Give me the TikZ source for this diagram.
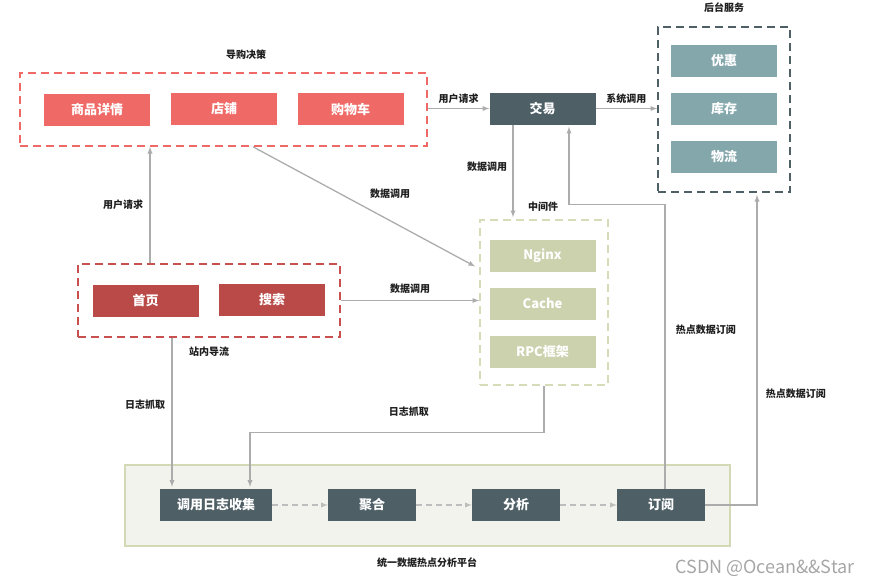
\documentclass[tikz,border=0pt]{standalone}
\usepackage{fontspec}
\setmainfont{Noto Sans CJK SC}
\usepackage{tikz}
\definecolor{hpsalmon}{RGB}{239,106,102}
\definecolor{hpred}{RGB}{185,74,72}
\definecolor{hpreddash}{RGB}{200,80,78}
\definecolor{hpslate}{RGB}{78,95,102}
\definecolor{hpteal}{RGB}{132,167,172}
\definecolor{hpolive}{RGB}{204,210,174}
\definecolor{hpolivedash}{RGB}{214,220,184}
\definecolor{hpbase}{RGB}{243,243,238}
\definecolor{hpbaseline}{RGB}{210,217,180}
\definecolor{hpgray}{RGB}{172,172,172}
\definecolor{hptext}{RGB}{30,30,30}

\begin{document}
\begin{tikzpicture}[
  x=1pt, y=-1pt,
  box/.style={rectangle, inner sep=0pt, minimum width=106pt, minimum height=32pt, text=white, font=\fontsize{13}{15}\selectfont\bfseries},
  group/.style={rectangle, inner sep=0pt, dash pattern=on 8pt off 5pt, line width=1.6pt},
  title/.style={text=hptext, font=\fontsize{10}{12}\selectfont\bfseries},
  arrow/.style={->, >=latex, draw=hpgray, line width=1.3pt},
  flow/.style={->, >=latex, draw=hpgray!80, line width=1.3pt, dash pattern=on 6pt off 4pt}
]
\useasboundingbox (0,0) rectangle (877,586);

% Groups
\node[group, draw=hpsalmon, minimum width=407pt, minimum height=73pt] (guide) at (223.5,109.5) {};
\node[group, draw=hpslate, minimum width=132pt, minimum height=165pt] (backend) at (724,109.5) {};
\node[group, draw=hpolivedash, minimum width=128pt, minimum height=165pt] (mid) at (544,302.5) {};
\node[group, draw=hpreddash, minimum width=262pt, minimum height=73pt] (site) at (209,300.5) {};
\node[rectangle, fill=hpbase, draw=hpbaseline, line width=1.7pt, minimum width=605pt, minimum height=81pt] (platform) at (427.5,505.5) {};

% Group titles
\node[title] (guidetitle) at (246,55) {导购决策};
\node[title] (backendtitle) at (724,8) {后台服务};
\node[title] (midtitle) at (543,207) {中间件};
\node[title] (sitetitle) at (209,352) {站内导流};
\node[title] (platformtitle) at (427,563) {统一数据热点分析平台};

% Top row - shopping guide
\node[box, fill=hpsalmon] (detail) at (97,109.5) {商品详情};
\node[box, fill=hpsalmon] (shop) at (224,109) {店铺};
\node[box, fill=hpsalmon] (cart) at (350.5,109) {购物车};
\node[box, fill=hpslate] (trade) at (542.5,108.5) {交易};

% Back-end services
\node[box, fill=hpteal] (coupon) at (724,61) {优惠};
\node[box, fill=hpteal] (stock) at (724,109) {库存};
\node[box, fill=hpteal] (logistics) at (724,157) {物流};

% Middleware
\node[box, fill=hpolive] (nginx) at (542.5,255.5) {Nginx};
\node[box, fill=hpolive] (cache) at (542.5,303.5) {Cache};
\node[box, fill=hpolive] (rpc) at (542.5,351.5) {RPC框架};

% In-site traffic
\node[box, fill=hpred] (home) at (145.5,300.5) {首页};
\node[box, fill=hpred] (search) at (272,300) {搜索};

% Platform
\node[box, fill=hpslate, minimum width=112pt] (collect) at (216,505) {调用日志收集};
\node[box, fill=hpslate, minimum width=88pt] (agg) at (372,505) {聚合};
\node[box, fill=hpslate, minimum width=88pt] (analyze) at (516,505) {分析};
\node[box, fill=hpslate, minimum width=88pt] (sub) at (661,505) {订阅};

% Arrows
\draw[arrow] (guide.east |- trade.west) -- (trade.west) node[midway, above=1pt, title] {用户请求};
\draw[arrow] (trade.east) -- (trade.east -| backend.west) node[midway, above=1pt, title] {系统调用};
\draw[arrow] ([xshift=-29.5pt]trade.south) -- ([xshift=-29.5pt, yshift=2pt]trade.south |- mid.north) node[pos=0.45, left=2pt, title] {数据调用};
\draw[arrow] ([xshift=-59pt]site.north) -- ([xshift=-59pt]site.north |- guide.south) node[midway, left=3pt, title] {用户请求};
\draw[arrow] ([xshift=29.5pt]guide.south) -- ([xshift=-4pt, yshift=36pt]mid.west) node[pos=0.5, anchor=south west, xshift=2pt, yshift=4pt, title] {数据调用};
\draw[arrow] (site.east) -- (site.east -| mid.west) node[midway, above=3pt, title] {数据调用};
\draw[arrow] ([xshift=-37pt]site.south) -- ([xshift=-37pt, yshift=2pt]site.south |- collect.north) node[pos=0.45, left=3pt, title] {日志抓取};
\draw[arrow] (mid.south) -- ++(0,47) -| ([xshift=34pt, yshift=2pt]collect.north) node[pos=0.23, above=12pt, title] {日志抓取};
\draw[arrow] ([xshift=4pt]sub.north) -- node[pos=0.56, right=7pt, title] {热点数据订阅} ++(0,-284) -| ([xshift=26.5pt, yshift=-2pt]trade.south);
\draw[arrow] (sub.east) -| ([xshift=33pt, yshift=-2pt]backend.south) node[pos=0.68, right=5pt, title] {热点数据订阅};

% Platform flow
\draw[flow] (collect) -- (agg);
\draw[flow] (agg) -- (analyze);
\draw[flow] (analyze) -- (sub);

\node[text=black!35, font=\fontsize{18}{20}\selectfont] (mark) at (765,568) {CSDN @Ocean\&\&Star};
\end{tikzpicture}
\end{document}
